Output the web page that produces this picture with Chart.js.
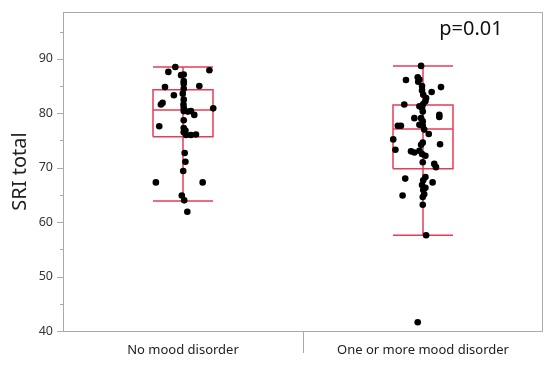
<!DOCTYPE html>
<html>
<head>
<meta charset="utf-8">
<script src="https://cdn.jsdelivr.net/npm/chart.js@4"></script>
<style>
  html, body { margin: 0; padding: 0; background: #fff; }
  #wrap { width: 550px; height: 377px; }
</style>
</head>
<body>
<div id="wrap"><canvas id="box"></canvas></div>
<script>
const categories = ['No mood disorder', 'One or more mood disorder'];

// SRI total values per group, with the horizontal jitter
const noMoodY = [88.5, 87.6, 87.9, 87.0, 87.1, 85.0, 84.8, 85.9, 85.4, 84.5,
  83.3, 83.6, 81.9, 81.6, 82.5, 81.6, 81.0, 80.9, 80.4, 80.3,
  80.4, 79.7, 78.7, 77.6, 77.3, 76.8, 76.5, 76.0, 76.0, 76.1,
  72.7, 71.1, 69.4, 67.3, 67.3, 64.9, 64.0, 61.9];
const noMoodJitter = [-0.032, -0.061, 0.110, -0.008, 0.003, 0.068, -0.075, 0.003, 0.003, 0.003,
  -0.038, -0.001, -0.085, -0.092, 0.003, 0.002, 0.003, 0.126, 0.003, 0.020,
  0.033, 0.047, 0.003, -0.099, 0.003, 0.010, 0.003, 0.013, 0.033, 0.054,
  0.007, 0.010, 0.001, -0.113, 0.082, -0.005, 0.005, 0.018];

const moodY = [88.7, 86.1, 86.6, 86.2, 85.8, 85.0, 84.8, 83.9, 84.2, 83.4,
  82.8, 82.2, 81.7, 81.6, 81.3, 81.0, 80.3, 79.1, 79.7, 79.3,
  79.1, 78.5, 77.9, 77.7, 77.7, 77.7, 77.0, 76.2, 75.2, 74.6,
  74.2, 74.3, 73.3, 73.0, 72.8, 73.1, 72.5, 72.2, 71.0, 70.7,
  70.1, 68.0, 68.3, 67.7, 67.3, 66.8, 66.3, 65.9, 64.9, 65.1,
  64.6, 63.2, 57.6, 41.6];
const moodJitter = [-0.008, -0.071, -0.022, -0.015, -0.020, -0.004, 0.075, 0.036, -0.004, 0.001,
  0.013, 0.010, 0.001, -0.078, -0.015, -0.004, -0.001, -0.036, 0.068, 0.068,
  -0.008, -0.001, -0.015, -0.001, -0.105, -0.092, 0.005, 0.024, -0.124, -0.001,
  -0.008, 0.071, -0.115, -0.050, -0.036, -0.015, -0.004, 0.010, -0.001, 0.047,
  0.054, -0.074, 0.010, 0.001, 0.040, -0.004, 0.010, 0.001, -0.085, 0.005,
  -0.001, -0.001, 0.013, -0.022];

// box stats: lower whisker, Q1, median, Q3, upper whisker
const whiskerLow = [63.9, 57.6];
const q1 = [75.7, 69.8];
const median = [80.6, 77.1];
const q3 = [84.3, 81.5];
const whiskerHigh = [88.5, 88.7];

const pValue = 'p=0.01';

const red = '#e43d55';
const half = 0.125;

function seg(pts, ord) {
  return {
    type: 'line', data: pts.map(p => ({x: p[0], y: p[1]})),
    borderColor: red, borderWidth: 1.5, pointRadius: 0,
    fill: false, tension: 0, order: ord
  };
}

const datasets = [];
datasets.push({
  data: noMoodY.map((v, i) => ({x: 0 + noMoodJitter[i], y: v}))
    .concat(moodY.map((v, i) => ({x: 1 + moodJitter[i], y: v}))),
  backgroundColor: '#000', borderColor: '#000',
  pointRadius: 3.3, borderWidth: 0, order: 0
});
categories.forEach((c, i) => {
  datasets.push(seg([[i - half, q1[i]], [i + half, q1[i]], [i + half, q3[i]], [i - half, q3[i]], [i - half, q1[i]]], 1));
  datasets.push(seg([[i - half, median[i]], [i + half, median[i]]], 1));
  datasets.push(seg([[i, whiskerLow[i]], [i, whiskerHigh[i]]], 1));
  datasets.push(seg([[i - half, whiskerLow[i]], [i + half, whiskerLow[i]]], 1));
  datasets.push(seg([[i - half, whiskerHigh[i]], [i + half, whiskerHigh[i]]], 1));
});

const frame = {
  id: 'frame',
  afterDraw(chart) {
    const {ctx, chartArea: a, scales} = chart;
    ctx.save();
    ctx.strokeStyle = '#aaa';
    ctx.lineWidth = 1;
    ctx.strokeRect(a.left + 0.5, a.top + 0.5, a.right - a.left - 1, a.bottom - a.top);
    // y tick marks: long at labelled values, short in between
    scales.y.ticks.forEach(t => {
      const y = Math.round(scales.y.getPixelForValue(t.value)) + 0.5;
      const len = t.value % 10 === 0 ? 6 : 3;
      ctx.beginPath();
      ctx.moveTo(a.left - len, y);
      ctx.lineTo(a.left, y);
      ctx.stroke();
    });
    // divider between the two categories under the axis
    const xd = Math.round(scales.x.getPixelForValue(0.5)) + 0.5;
    ctx.beginPath();
    ctx.moveTo(xd, a.bottom);
    ctx.lineTo(xd, a.bottom + 22);
    ctx.stroke();
    ctx.fillStyle = '#111';
    ctx.font = '20px "Noto Sans"';
    ctx.textAlign = 'center';
    ctx.textBaseline = 'middle';
    ctx.fillText(pValue, a.right - 72, a.top + 17);
    ctx.restore();
  }
};

new Chart(document.getElementById('box'), {
  type: 'scatter',
  data: { datasets: datasets },
  options: {
    responsive: true,
    maintainAspectRatio: false,
    animation: false,
    layout: { padding: { top: 12, right: 7, left: 0, bottom: 0 } },
    plugins: { legend: { display: false }, tooltip: { enabled: false } },
    scales: {
      x: {
        type: 'linear', min: -0.5, max: 1.5,
        afterBuildTicks: s => { s.ticks = categories.map((c, i) => ({value: i})); },
        afterFit: s => { s.height = 46; },
        grid: { display: false },
        border: { display: false },
        ticks: {
          callback: v => categories[v],
          color: '#222', font: { family: 'Noto Sans', size: 13 }, padding: 3,
          maxRotation: 0
        }
      },
      y: {
        min: 40, max: 98.6,
        afterFit: s => { s.width = 63; },
        border: { display: false },
        grid: { drawOnChartArea: false, tickLength: 6, tickColor: 'rgba(0,0,0,0)' },
        ticks: {
          stepSize: 5, includeBounds: false,
          callback: v => (v % 10 === 0 ? v : ''),
          color: '#333', font: { family: 'Noto Sans', size: 12.5 }, padding: 4
        },
        title: {
          display: true, text: 'SRI total', color: '#222',
          font: { family: 'Noto Sans', size: 20 }, padding: { top: 8, bottom: 0 }
        }
      }
    }
  },
  plugins: [frame]
});
</script>
</body>
</html>
